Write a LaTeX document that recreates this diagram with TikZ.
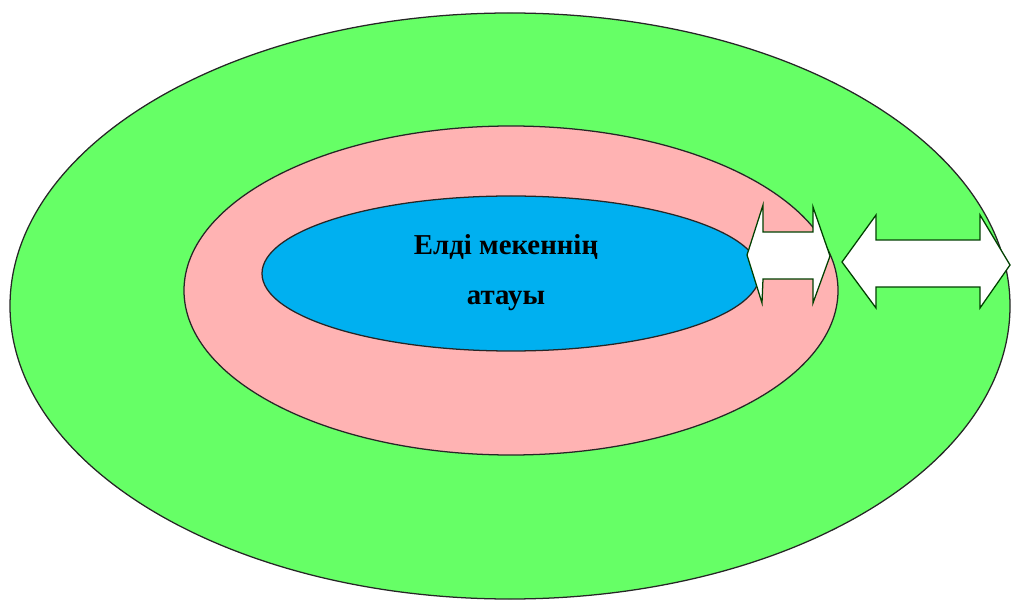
\documentclass[tikz,border=0pt]{standalone}
\usepackage{fontspec}
\setmainfont{Liberation Serif}
\usetikzlibrary{positioning}
\definecolor{fieldgreen}{RGB}{102,255,102}
\definecolor{ringpink}{RGB}{255,179,179}
\definecolor{coreblue}{RGB}{0,176,240}
\begin{document}
\begin{tikzpicture}[x=0.025cm,y=-0.025cm,
   zone/.style={draw=black!85,line width=0.9pt},
   twoway/.style={draw=black!75!green,fill=white,line width=0.9pt,line join=miter},
   title/.style={anchor=base,font=\bfseries\fontsize{20.5}{24}\selectfont}]
  \useasboundingbox (0,0) rectangle (1011,602);
  % zones
  \draw[zone,fill=fieldgreen] (510,306) ellipse [x radius=500,y radius=293];
  \draw[zone,fill=ringpink] (511,290.5) ellipse [x radius=327,y radius=164.5];
  \draw[zone,fill=coreblue] (511,273.5) ellipse [x radius=249,y radius=77.5];
  % name of the settlement
  \node[title] (name1) at (506,255) {Елді мекеннің};
  \node[title] (name2) at (506,305) {атауы};
  % two-way arrows
  \draw[twoway] (747,255) -- (763,205) -- (763,232) -- (813,232) -- (813,207)
     -- (830,256) -- (813,303) -- (813,279) -- (763,279) -- (762,303) -- cycle;
  \draw[twoway] (842,262) -- (876,215) -- (876,240) -- (980,240) -- (980,215)
     -- (1010,265) -- (980,308) -- (980,287) -- (876,287) -- (876,308) -- cycle;
\end{tikzpicture}
\end{document}
